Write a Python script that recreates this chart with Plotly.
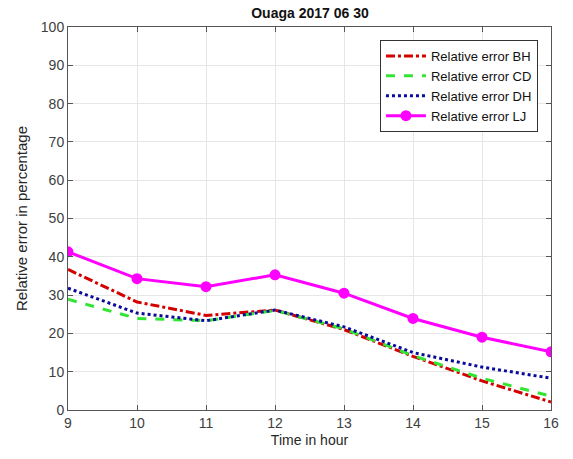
import plotly.graph_objects as go

# Dados
horas = [9, 10, 11, 12, 13, 14, 15, 16]
erro_bh = [36.7, 28.2, 24.7, 26.1, 21.0, 14.0, 7.6, 2.1]
erro_cd = [28.9, 23.9, 23.3, 26.0, 21.2, 14.2, 8.3, 3.6]
erro_dh = [31.8, 25.3, 23.3, 26.1, 21.7, 15.0, 11.2, 8.3]
erro_lj = [41.3, 34.3, 32.2, 35.3, 30.5, 23.9, 19.0, 15.2]

fig = go.Figure()

fig.add_trace(go.Scatter(
    x=horas, y=erro_bh, mode='lines', name='Relative error BH',
    line=dict(color='#d40000', width=3, dash='dashdot')
))
fig.add_trace(go.Scatter(
    x=horas, y=erro_cd, mode='lines', name='Relative error CD',
    line=dict(color='#33e533', width=3, dash='dash')
))
fig.add_trace(go.Scatter(
    x=horas, y=erro_dh, mode='lines', name='Relative error DH',
    line=dict(color='#0a0a9a', width=3, dash='dot')
))
fig.add_trace(go.Scatter(
    x=horas, y=erro_lj, mode='lines+markers', name='Relative error LJ',
    line=dict(color='#ff00ff', width=3),
    marker=dict(size=11, color='#ff00ff')
))

eixo = dict(
    showline=True, linecolor='#555555', linewidth=1, mirror='ticks',
    ticks='inside', ticklen=5, tickcolor='#555555',
    showgrid=True, gridcolor='#e6e6e6', gridwidth=1,
    zeroline=False, tickfont=dict(size=14, color='#404040'),
)

fig.update_layout(
    width=573, height=459,
    margin=dict(l=68, r=22, t=27, b=49),
    paper_bgcolor='white', plot_bgcolor='white',
    font=dict(family='Liberation Sans, Arial, sans-serif', color='#262626'),
    title=dict(text='<b>Ouaga 2017 06 30</b>', x=0.541, xanchor='center',
               y=0.971, yanchor='middle', font=dict(size=14, color='#111111')),
    xaxis=dict(eixo, range=[9, 16], dtick=1,
               title=dict(text='Time in hour', font=dict(size=14), standoff=5)),
    yaxis=dict(eixo, range=[0, 100], dtick=10,
               title=dict(text='Relative error in percentage', font=dict(size=15), standoff=9)),
    legend=dict(
        x=0.973, y=0.966, xanchor='right', yanchor='top',
        bgcolor='white', bordercolor='#333333', borderwidth=1,
        font=dict(size=13, color='#111111'), tracegroupgap=0,
        itemwidth=40,
    ),
    showlegend=True,
)

# tira a margem padrão do body para a figura ocupar a janela toda
fig.write_html("out.html", config={'displayModeBar': False},
               post_script="document.body.style.margin = '0';")
